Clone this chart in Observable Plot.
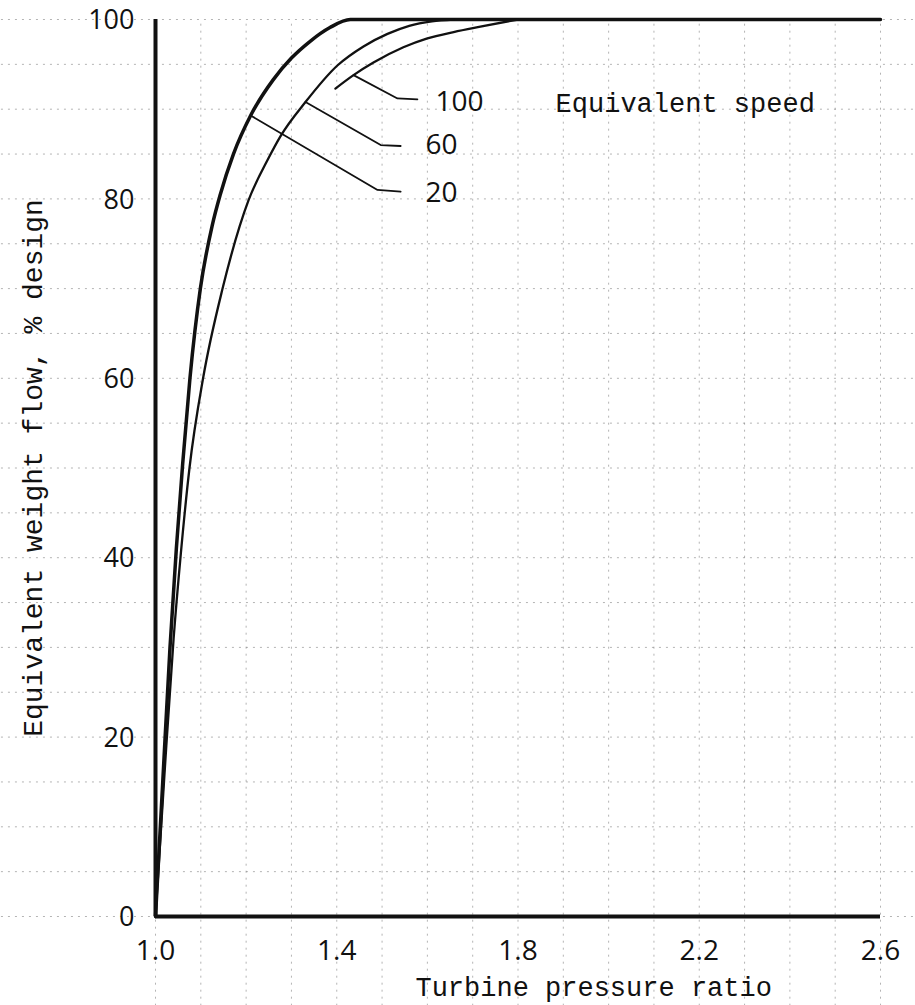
<!DOCTYPE html>
<html>
<head>
<meta charset="utf-8">
<script src="https://cdn.jsdelivr.net/npm/d3@7"></script>
<script src="https://cdn.jsdelivr.net/npm/@observablehq/plot@0.6"></script>
<style>
  html, body { margin: 0; padding: 0; background: #fff; }
  #chart svg { display: block; }
</style>
</head>
<body>
<div id="chart"></div>
<script>
// Equivalent speed 20 % (leftmost curve)
const ratio20 = [1.000, 1.016, 1.032, 1.046, 1.060, 1.076, 1.099, 1.125, 1.143, 1.172, 1.210, 1.260, 1.300, 1.342, 1.385, 1.430, 2.600];
const flow20  = [0,     15,    30,    41,    50.5,  60,    70,    77,    80.5,  85,    89.3,  93.3,  95.7,  97.6,  99.1,  100,   100];
// Equivalent speed 60 % (middle curve)
const ratio60 = [1.000, 1.020, 1.040, 1.056, 1.075, 1.105, 1.148, 1.205, 1.249, 1.276, 1.331, 1.402, 1.459, 1.512, 1.560, 1.610, 1.658];
const flow60  = [0,     16,    31,    40.5,  50,    60,    70,    79.8,  84.5,  87,    90.8,  94.9,  97,    98.4,  99.3,  99.8,  100];
// Equivalent speed 100 % (short curve at right)
const ratio100 = [1.397, 1.437, 1.481, 1.547, 1.600, 1.658, 1.717, 1.800];
const flow100  = [92.3,  93.8,  95.2,  96.9,  97.9,  98.6,  99.2,  100];

const xTicks = [1.0, 1.4, 1.8, 2.2, 2.6];
const xTickLabels = ["1.0", "1.4", "1.8", "2.2", "2.6"];
const yTicks = [0, 20, 40, 60, 80, 100];
const yTickLabels = ["0", "20", "40", "60", "80", "100"];

const speedLabels = ["100", "60", "20"];
const legendTitle = "Equivalent speed";
const xTitle = "Turbine pressure ratio";
const yTitle = "Equivalent weight flow, % design";

const toRows = (xs, ys) => xs.map((x, i) => ({x, y: ys[i]}));
const curve20 = toRows(ratio20, flow20);
const curve60 = toRows(ratio60, flow60);
const curve100 = toRows(ratio100, flow100);

// leader lines from each curve to its label
const leaders = [
  {key: "100", pts: toRows([1.437, 1.534, 1.578], [93.8, 91.2, 91.1]), tx: 1.618, ty: 90.8},
  {key: "60",  pts: toRows([1.331, 1.497, 1.541], [90.8, 86.0, 85.9]), tx: 1.596, ty: 86.0},
  {key: "20",  pts: toRows([1.210, 1.490, 1.541], [89.3, 81.0, 80.8]), tx: 1.596, ty: 80.6}
];
const leaderRows = leaders.flatMap(l => l.pts.map(p => ({...p, key: l.key})));
const labelRows = leaders.map((l, i) => ({x: l.tx, y: l.ty, text: speedLabels[i]}));

const xGrid = d3.range(1.0, 2.65, 0.1);
const yGrid = d3.range(0, 101, 5);

const typeFont = "'Liberation Mono', 'DejaVu Sans Mono', monospace";
const handFont = "'Open Sans', 'DejaVu Sans', sans-serif";

const chart = Plot.plot({
  width: 915,
  height: 1005,
  marginLeft: 155,
  marginRight: 35,
  marginTop: 19,
  marginBottom: 89,
  x: {domain: [1.0, 2.6]},
  y: {domain: [0, 100]},
  style: {background: "#fff", color: "#111", fontFamily: handFont},
  marks: [
    // graph-paper grid
    Plot.ruleX(xGrid, {y1: -10, y2: 100, stroke: "#777", strokeOpacity: 0.55, strokeDasharray: "2,5", strokeWidth: 1}),
    Plot.ruleY(yGrid, {x1: 0.66, x2: 2.675, stroke: "#777", strokeOpacity: 0.55, strokeDasharray: "2,5", strokeWidth: 1}),
    // axes lines
    Plot.ruleX([1.0], {stroke: "#111", strokeWidth: 4}),
    Plot.ruleY([0], {stroke: "#111", strokeWidth: 4}),
    Plot.axisX(xTicks, {tickSize: 0, tickPadding: 24, fontSize: 28, fontFamily: handFont, fill: "#111",
      tickFormat: d => xTickLabels[xTicks.indexOf(d)], label: null}),
    Plot.axisY(yTicks, {tickSize: 0, tickPadding: 21, fontSize: 27, fontFamily: handFont, fill: "#111", dy: 1,
      tickFormat: d => yTickLabels[yTicks.indexOf(d)], label: null}),
    // curves
    Plot.line(curve20, {x: "x", y: "y", curve: "monotone-x", stroke: "#111", strokeWidth: 3.5}),
    Plot.line(curve60, {x: "x", y: "y", curve: "monotone-x", stroke: "#111", strokeWidth: 2.3}),
    Plot.line(curve100, {x: "x", y: "y", curve: "monotone-x", stroke: "#111", strokeWidth: 2.3}),
    // leaders and labels
    Plot.line(leaderRows, {x: "x", y: "y", z: "key", stroke: "#111", strokeWidth: 1.8}),
    Plot.text(labelRows, {x: "x", y: "y", text: "text", textAnchor: "start", fontSize: 28, fontFamily: handFont, fill: "#111"}),
    Plot.text([legendTitle], {x: () => 1.883, y: () => 90.6, text: d => d, textAnchor: "start", fontSize: 27, fontFamily: typeFont, fill: "#111"}),
    // axis titles
    Plot.text([xTitle], {x: () => 1.967, frameAnchor: "bottom", dy: 79, text: d => d, fontSize: 27, fontFamily: typeFont, fill: "#111"}),
    Plot.text([yTitle], {frameAnchor: "left", textAnchor: "middle", dx: -122, rotate: -90, text: d => d, fontSize: 28, fontFamily: typeFont, fill: "#111"})
  ]
});
document.getElementById("chart").appendChild(chart);
</script>
</body>
</html>
